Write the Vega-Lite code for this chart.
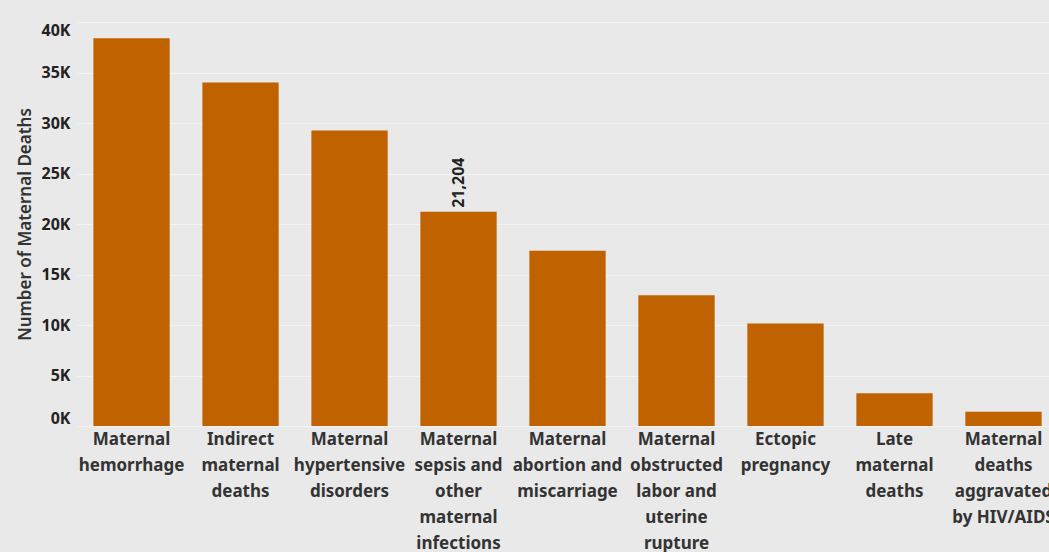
{
  "$schema": "https://vega.github.io/schema/vega-lite/v6.json",
  "autosize": {"type": "none"},
  "width": 972,
  "height": 404,
  "padding": {"left": 77, "top": 22, "right": 0, "bottom": 126},
  "background": "#e9e9e9",
  "config": {
    "view": {"stroke": null},
    "font": "Noto Sans"
  },
  "data": {
    "values": [
      {"cause": "Maternal hemorrhage", "deaths": 38400},
      {"cause": "Indirect maternal deaths", "deaths": 34000},
      {"cause": "Maternal hypertensive disorders", "deaths": 29250},
      {"cause": "Maternal sepsis and other maternal infections", "deaths": 21204},
      {"cause": "Maternal abortion and miscarriage", "deaths": 17350},
      {"cause": "Maternal obstructed labor and uterine rupture", "deaths": 12950},
      {"cause": "Ectopic pregnancy", "deaths": 10150},
      {"cause": "Late maternal deaths", "deaths": 3250},
      {"cause": "Maternal deaths aggravated by HIV/AIDS", "deaths": 1420}
    ]
  },
  "encoding": {
    "x": {
      "field": "cause",
      "type": "nominal",
      "sort": null,
      "scale": {"paddingInner": 0.3, "paddingOuter": 0.109, "align": 0.69},
      "axis": {
        "title": null,
        "labelAngle": 0,
        "labelFontSize": 17,
        "labelFontWeight": "bold",
        "labelColor": "#333333",
        "labelLineHeight": 26,
        "labelPadding": 5,
        "labelLimit": 0,
        "ticks": false,
        "domain": false,
        "labelExpr": "{'Maternal hemorrhage': ['Maternal', 'hemorrhage'], 'Indirect maternal deaths': ['Indirect', 'maternal', 'deaths'], 'Maternal hypertensive disorders': ['Maternal', 'hypertensive', 'disorders'], 'Maternal sepsis and other maternal infections': ['Maternal', 'sepsis and', 'other', 'maternal', 'infections'], 'Maternal abortion and miscarriage': ['Maternal', 'abortion and', 'miscarriage'], 'Maternal obstructed labor and uterine rupture': ['Maternal', 'obstructed', 'labor and', 'uterine', 'rupture'], 'Ectopic pregnancy': ['Ectopic', 'pregnancy'], 'Late maternal deaths': ['Late', 'maternal', 'deaths'], 'Maternal deaths aggravated by HIV/AIDS': ['Maternal', 'deaths', 'aggravated', 'by HIV/AIDS']}[datum.value]"
      }
    },
    "y": {
      "field": "deaths",
      "type": "quantitative",
      "scale": {"domain": [0, 40000], "nice": false},
      "axis": {
        "title": "Number of Maternal Deaths",
        "titleFontSize": 17,
        "titleFontWeight": 600,
        "titleColor": "#333333",
        "titlePadding": 7,
        "values": [0, 5000, 10000, 15000, 20000, 25000, 30000, 35000, 40000],
        "labelExpr": "format(datum.value / 1000, 'd') + 'K'",
        "labelFontSize": 16,
        "labelFontWeight": "bold",
        "labelColor": "#222222",
        "labelPadding": 7,
        "labelFlush": true,
        "ticks": false,
        "domain": false,
        "grid": true,
        "gridColor": "#f3f3f3",
        "gridWidth": 1
      }
    }
  },
  "layer": [
    {
      "mark": {"type": "bar", "color": "#c06200"}
    },
    {
      "transform": [{"filter": "datum.cause === 'Maternal sepsis and other maternal infections'"}],
      "mark": {
        "type": "text",
        "angle": 270,
        "align": "left",
        "baseline": "middle",
        "dx": 4,
        "fontSize": 16,
        "fontWeight": "bold",
        "color": "#222222"
      },
      "encoding": {
        "text": {"field": "deaths", "type": "quantitative", "format": ","}
      }
    }
  ]
}
